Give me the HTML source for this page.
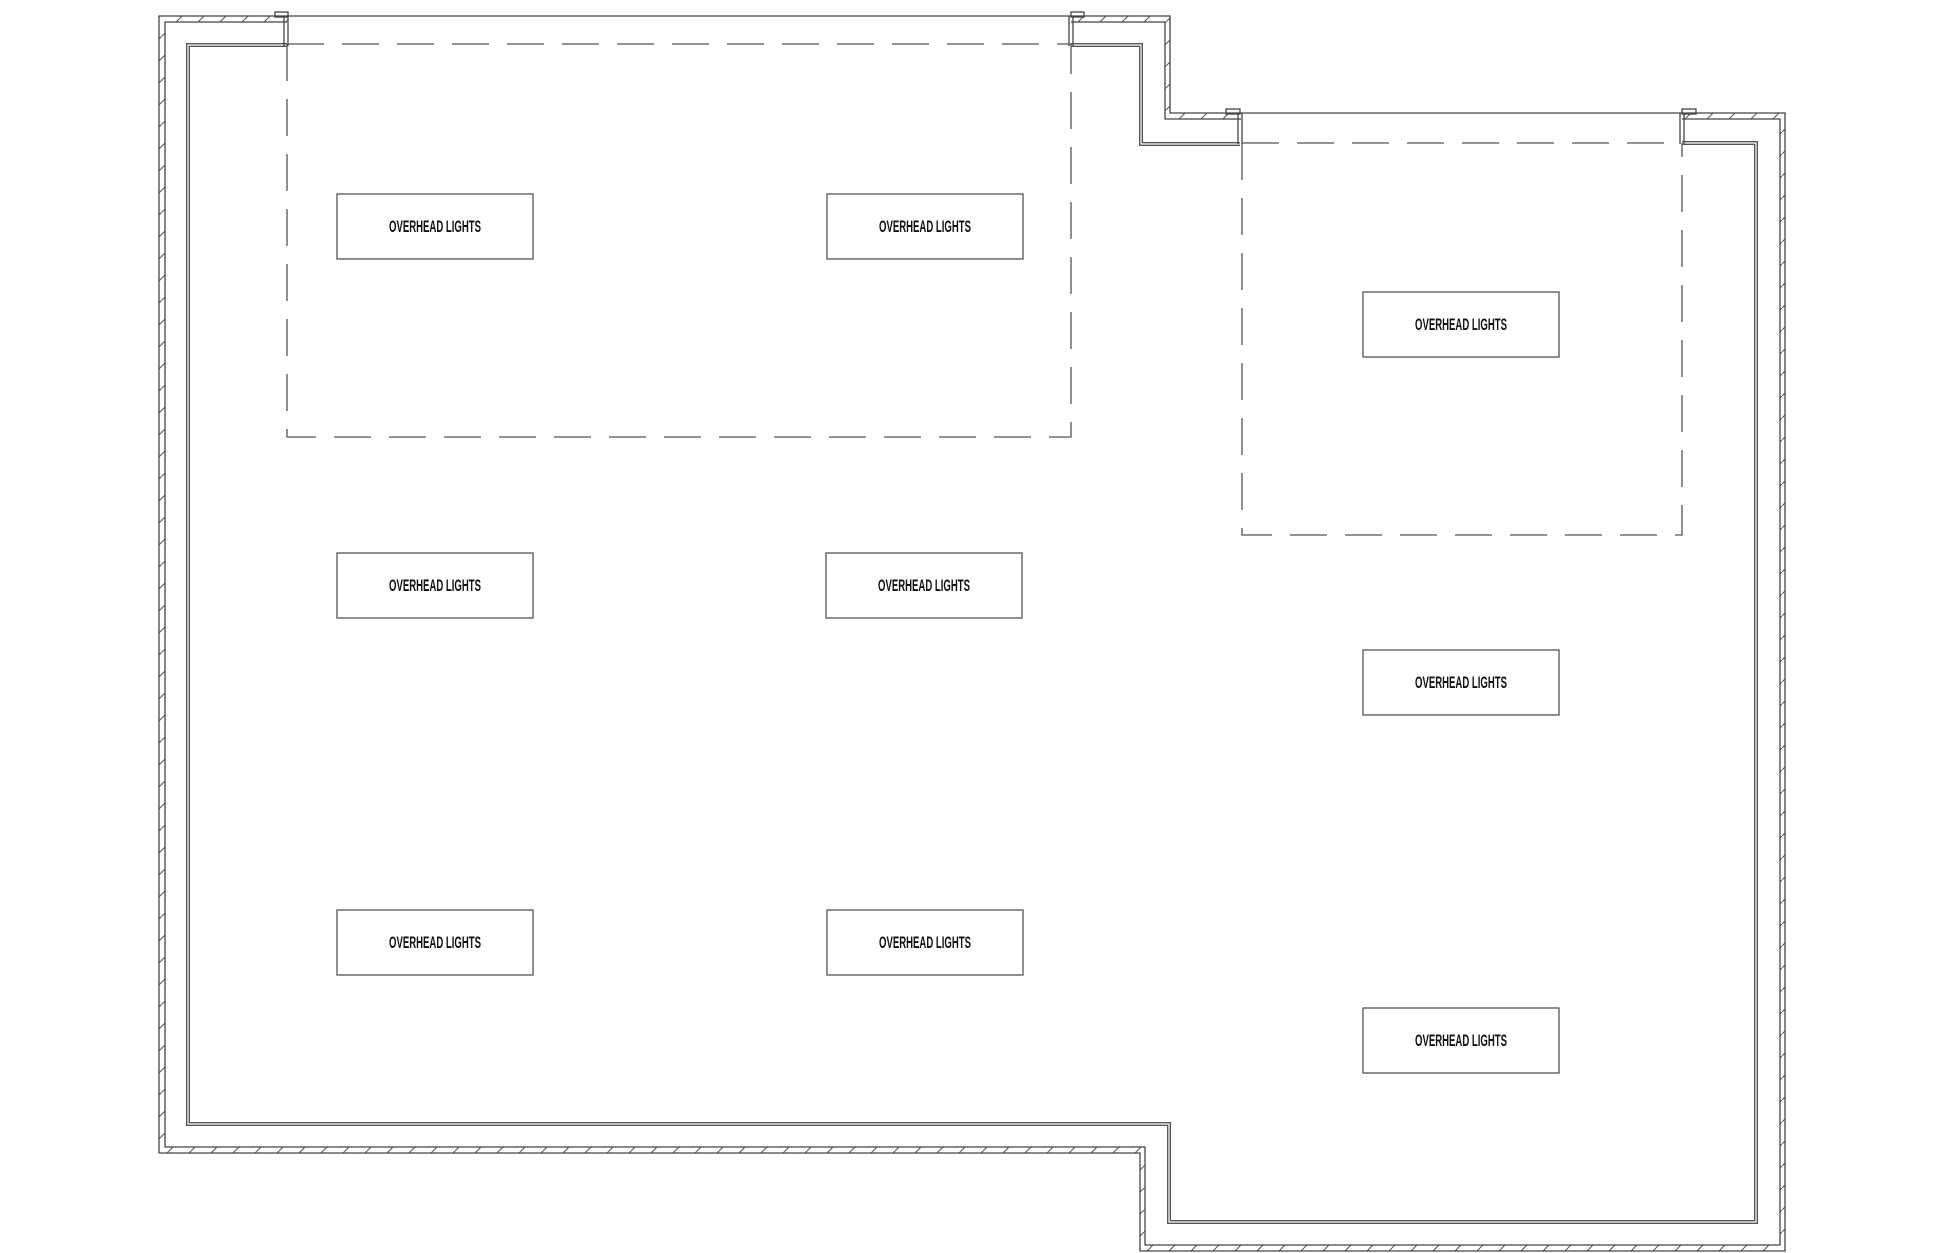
<!DOCTYPE html>
<html><head><meta charset="utf-8"><style>
html,body{margin:0;padding:0;background:#fff;width:1946px;height:1253px;overflow:hidden}
svg{display:block}
text{font-family:"Liberation Sans",sans-serif;font-weight:bold;font-size:17px;fill:#111}
</style></head><body>
<svg width="1946" height="1253" viewBox="0 0 1946 1253" xmlns="http://www.w3.org/2000/svg">
<defs>
<pattern id="h" patternUnits="userSpaceOnUse" width="22" height="22">
<line x1="0" y1="22" x2="22" y2="0" stroke="#555" stroke-width="1"/>
</pattern>
</defs>
<path fill="url(#h)" fill-rule="evenodd" d="M159,16 H1170 V113 H1785 V1251 H1140 V1153 H159 Z M165,22 V1147 H1145 V1245 H1780 V119 H1165 V22 Z"/>
<rect x="288" y="15" width="782" height="9" fill="#fff"/>
<rect x="1242" y="112" width="439" height="9" fill="#fff"/>
<g fill="none" stroke="#444" stroke-width="1.3">
<path d="M159,16 H1170 V113 H1785 V1251 H1140 V1153 H159 Z"/>
<path d="M287,22 H165 V1147 H1145 V1245 H1780 V119 H1682"/>
<path d="M1071,22 H1165 V119 H1241"/>
</g>
<g fill="none" stroke="#555" stroke-width="4">
<path d="M287,45 H188 V1124 H1169 V1222 H1756 V143 H1682"/>
<path d="M1240,144 H1141 V45 H1071"/>
</g>
<g fill="none" stroke="#fff" stroke-width="1.2">
<path d="M287,45 H188 V1124 H1169 V1222 H1756 V143 H1682"/>
<path d="M1240,144 H1141 V45 H1071"/>
</g>
<g fill="none" stroke="#444" stroke-width="1.3">
<path d="M284,16 V46 M288,16 V46"/>
<path d="M1069,16 V46 M1073,16 V46"/>
<path d="M1238,113 V144 M1242,113 V144"/>
<path d="M1680,113 V144 M1684,113 V144"/>
<rect x="275" y="12" width="13" height="5"/>
<rect x="1071" y="12" width="13" height="5"/>
<rect x="1226" y="109" width="14" height="5"/>
<rect x="1682" y="109" width="14" height="5"/>
</g>
<g fill="none" stroke="#555" stroke-width="1.3" stroke-dasharray="37,18">
<path d="M287,44 H1071 M287,44 V437 H1071 V44"/>
<path d="M1242,143 H1682 M1242,143 V535 H1682 V143"/>
</g>
<g fill="#fff" stroke="#555" stroke-width="1.3">
<rect x="337" y="194" width="196" height="65"/>
<rect x="827" y="194" width="196" height="65"/>
<rect x="337" y="553" width="196" height="65"/>
<rect x="826" y="553" width="196" height="65"/>
<rect x="337" y="910" width="196" height="65"/>
<rect x="827" y="910" width="196" height="65"/>
<rect x="1363" y="292" width="196" height="65"/>
<rect x="1363" y="650" width="196" height="65"/>
<rect x="1363" y="1008" width="196" height="65"/>
</g>
<g text-anchor="middle">
<text x="435" y="232" textLength="92" lengthAdjust="spacingAndGlyphs">OVERHEAD LIGHTS</text>
<text x="925" y="232" textLength="92" lengthAdjust="spacingAndGlyphs">OVERHEAD LIGHTS</text>
<text x="435" y="591" textLength="92" lengthAdjust="spacingAndGlyphs">OVERHEAD LIGHTS</text>
<text x="924" y="591" textLength="92" lengthAdjust="spacingAndGlyphs">OVERHEAD LIGHTS</text>
<text x="435" y="948" textLength="92" lengthAdjust="spacingAndGlyphs">OVERHEAD LIGHTS</text>
<text x="925" y="948" textLength="92" lengthAdjust="spacingAndGlyphs">OVERHEAD LIGHTS</text>
<text x="1461" y="330" textLength="92" lengthAdjust="spacingAndGlyphs">OVERHEAD LIGHTS</text>
<text x="1461" y="688" textLength="92" lengthAdjust="spacingAndGlyphs">OVERHEAD LIGHTS</text>
<text x="1461" y="1046" textLength="92" lengthAdjust="spacingAndGlyphs">OVERHEAD LIGHTS</text>
</g>
</svg>
</body></html>
